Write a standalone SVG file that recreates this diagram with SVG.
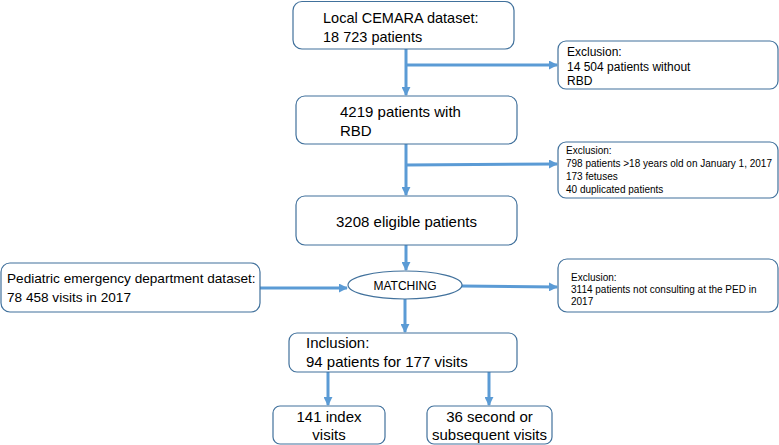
<svg xmlns="http://www.w3.org/2000/svg" width="779" height="445" viewBox="0 0 779 445">
<style>
.box{fill:#fff;stroke:#41719c;stroke-width:1.2}
.t{font-family:"Liberation Sans",Arial,sans-serif;fill:#000}
.a{stroke:#5b9bd5;stroke-width:3;fill:none;marker-end:url(#ah)}
</style>
<defs>
<marker id="ah" viewBox="0 0 10 10" refX="9" refY="5" markerWidth="3" markerHeight="3" orient="auto" markerUnits="strokeWidth">
<path d="M0,0 L10,5 L0,10 z" fill="#5b9bd5"/>
</marker>
</defs>
<rect width="779" height="445" fill="#fff"/>
<g id="connectors">
<line class="a" x1="406" y1="49" x2="406" y2="95"/>
<line class="a" x1="406" y1="65" x2="557" y2="65"/>
<line class="a" x1="406" y1="144" x2="406" y2="195"/>
<line class="a" x1="406" y1="165" x2="557" y2="164"/>
<line class="a" x1="406" y1="245" x2="406" y2="270"/>
<line class="a" x1="260" y1="288" x2="347" y2="288"/>
<line class="a" x1="461" y1="286" x2="557" y2="287"/>
<line class="a" x1="405" y1="299" x2="405" y2="332"/>
<line class="a" x1="328" y1="372" x2="328" y2="405"/>
<line class="a" x1="489" y1="372" x2="489" y2="405"/>
</g>
<g id="n1">
<rect class="box" x="293" y="1.5" width="221" height="47.5" rx="9"/>
<text class="t" x="323" y="23" font-size="14.5">Local CEMARA dataset:</text>
<text class="t" x="323" y="42" font-size="14.5">18 723 patients</text>
</g>
<g id="ex1">
<rect class="box" x="558" y="41" width="220" height="48" rx="8"/>
<text class="t" x="567" y="56" font-size="12">Exclusion:</text>
<text class="t" x="567" y="71" font-size="12">14 504 patients without</text>
<text class="t" x="567" y="85" font-size="12">RBD</text>
</g>
<g id="n2">
<rect class="box" x="296" y="96" width="221" height="48" rx="9"/>
<text class="t" x="340" y="117" font-size="15">4219 patients with</text>
<text class="t" x="340" y="136" font-size="15">RBD</text>
</g>
<g id="ex2">
<rect class="box" x="558" y="142" width="220" height="56" rx="8"/>
<text class="t" x="566" y="154" font-size="10">Exclusion:</text>
<text class="t" x="566" y="167" font-size="10">798 patients &gt;18 years old on January 1, 2017</text>
<text class="t" x="566" y="180" font-size="10">173 fetuses</text>
<text class="t" x="566" y="193" font-size="10">40 duplicated patients</text>
</g>
<g id="n3">
<rect class="box" x="296" y="196" width="221" height="49" rx="9"/>
<text class="t" x="406.5" y="227" font-size="15" text-anchor="middle">3208 eligible patients</text>
</g>
<g id="ped">
<rect class="box" x="1" y="263" width="259" height="49" rx="9"/>
<text class="t" x="7" y="283" font-size="13.6">Pediatric emergency department dataset:</text>
<text class="t" x="7" y="302" font-size="13.6">78 458 visits in 2017</text>
</g>
<g id="matching">
<ellipse class="box" cx="405" cy="285" rx="57" ry="14"/>
<text class="t" x="405" y="289.5" font-size="12" text-anchor="middle">MATCHING</text>
</g>
<g id="ex3">
<rect class="box" x="558" y="259" width="220" height="53" rx="9"/>
<text class="t" x="571" y="281" font-size="10">Exclusion:</text>
<text class="t" x="571" y="293" font-size="10">3114 patients not consulting at the PED in</text>
<text class="t" x="571" y="305" font-size="10">2017</text>
</g>
<g id="inclusion">
<rect class="box" x="289" y="333" width="228" height="39" rx="8"/>
<text class="t" x="306" y="348" font-size="15">Inclusion:</text>
<text class="t" x="306" y="367" font-size="15">94 patients for 177 visits</text>
</g>
<g id="index">
<rect class="box" x="273" y="406" width="112" height="38" rx="7"/>
<text class="t" x="329" y="422" font-size="15" text-anchor="middle">141 index</text>
<text class="t" x="329" y="440" font-size="15" text-anchor="middle">visits</text>
</g>
<g id="second">
<rect class="box" x="427" y="406" width="125" height="38" rx="7"/>
<text class="t" x="489.5" y="422" font-size="15" text-anchor="middle">36 second or</text>
<text class="t" x="489.5" y="440" font-size="15" text-anchor="middle">subsequent visits</text>
</g>
</svg>
